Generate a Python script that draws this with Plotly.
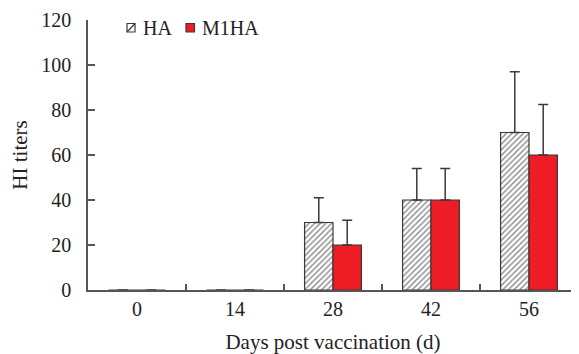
import plotly.graph_objects as go

days = ["0", "14", "28", "42", "56"]
ha_values = [0, 0, 30, 40, 70]
ha_err = [0, 0, 11, 14, 27]
m1ha_values = [0, 0, 20, 40, 60]
m1ha_err = [0, 0, 11, 14, 22.5]
y_ticks = [0, 20, 40, 60, 80, 100, 120]
series_names = ["HA", "M1HA"]

font_family = "Liberation Serif"
dark = "#3a3a3a"
red = "#ee1c25"

# page body has an 8px margin, so the figure is sized to fit the remaining window
W, H = 571, 346
ML, MR, MT, MB = 80, 1, 12, 64
PW, PH = W - ML - MR, H - MT - MB


def px_x(fx):
    return (fx - ML) / PW


def px_y(fy):
    return (MT + PH - fy) / PH


fig = go.Figure()
fig.add_trace(go.Bar(
    x=days, y=ha_values, name=series_names[0], showlegend=False,
    marker=dict(color="white", line=dict(color=dark, width=1.2),
                pattern=dict(shape="/", fgcolor="#111", bgcolor="white", size=4, solidity=0.35)),
    error_y=dict(type="data", array=ha_err, arrayminus=[0]*5, symmetric=False,
                 color=dark, thickness=1.5, width=5),
))
fig.add_trace(go.Bar(
    x=days, y=m1ha_values, name=series_names[1], showlegend=False,
    marker=dict(color=red, line=dict(color=dark, width=1.2)),
    error_y=dict(type="data", array=m1ha_err, arrayminus=[0]*5, symmetric=False,
                 color=dark, thickness=1.5, width=5),
))

# hand-drawn legend (small swatches like the original)
sw_top, sw_bot = 15.5, 24
ha_sw = (119, 127)
m1_sw = (178, 186.5)
fig.add_shape(type="rect", xref="paper", yref="paper",
              x0=px_x(ha_sw[0]), x1=px_x(ha_sw[1]), y0=px_y(sw_bot), y1=px_y(sw_top),
              line=dict(color=dark, width=1.2), fillcolor="white")
fig.add_shape(type="line", xref="paper", yref="paper",
              x0=px_x(ha_sw[0]), x1=px_x(ha_sw[1]), y0=px_y(sw_bot), y1=px_y(sw_top),
              line=dict(color=dark, width=1.2))
fig.add_shape(type="rect", xref="paper", yref="paper",
              x0=px_x(m1_sw[0]), x1=px_x(m1_sw[1]), y0=px_y(sw_bot), y1=px_y(sw_top),
              line=dict(color=dark, width=1.2), fillcolor=red)
for name, fx in zip(series_names, [133, 192]):
    fig.add_annotation(text=name, xref="paper", yref="paper", x=px_x(fx), y=px_y(19.5),
                       xanchor="left", yanchor="middle", showarrow=False,
                       font=dict(size=20, family=font_family, color="#222"))

fig.update_layout(
    width=W, height=H,
    margin=dict(l=ML, r=MR, t=MT, b=MB),
    paper_bgcolor="white", plot_bgcolor="white",
    font=dict(family=font_family, size=20, color="#222"),
    barmode="group", bargap=0.42, bargroupgap=0,
    showlegend=False,
    xaxis=dict(
        type="category", showline=True, linecolor="#555", linewidth=1.5,
        ticks="inside", tickson="boundaries", ticklen=6, tickcolor="#555", tickwidth=1.5,
        showgrid=False, zeroline=False, automargin=False,
        title=dict(text="Days post vaccination (d)", standoff=20, font=dict(size=21)),
    ),
    yaxis=dict(
        range=[0, 120], tickvals=y_ticks, showline=True, linecolor="#555", linewidth=1.5,
        ticks="inside", ticklen=7, tickcolor="#555", tickwidth=1.5,
        showgrid=False, zeroline=False, ticklabelstandoff=11, automargin=False,
        title=dict(text="HI titers", standoff=8, font=dict(size=21)),
    ),
)

fig.write_html("out.html")
